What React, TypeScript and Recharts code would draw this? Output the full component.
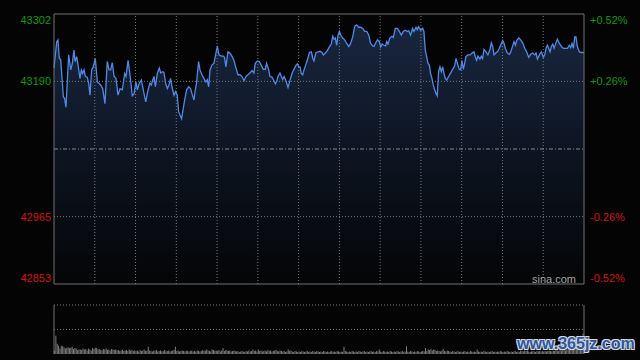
import { ComposedChart, BarChart, Area, Line, Bar, XAxis, YAxis, ReferenceLine } from "recharts";

// minutes since open (390 = close) and index price
const priceTimes = [
  0, 2.0, 2.9, 3.9, 4.9, 6.9, 7.8, 8.8, 10.8, 12.3, 13.5, 14.7, 15.5, 16.7, 17.7, 19.1, 20.1, 21.1, 22.1, 23.1,
  24.5, 25.5, 26.5, 27.7, 28.9, 30.4, 31.9, 33.1, 34.3, 35.8, 37.5, 39.2, 40.5, 41.7, 42.9, 44.2, 45.6, 47.1, 48.6, 50.3,
  52.0, 53.0, 54.5, 55.9, 57.6, 58.9, 60.3, 61.3, 62.8, 64.3, 65.7, 67.5, 69.2, 70.6, 71.6, 72.6, 73.6, 74.6, 76.0, 77.5,
  78.5, 80.0, 80.9, 82.1, 83.4, 84.6, 85.8, 86.8, 88.3, 89.5, 90.7, 91.7, 92.7, 93.9, 95.1, 96.4, 97.6, 99.1, 100.5, 101.5,
  103.0, 104.0, 104.9, 106.4, 107.4, 108.9, 110.3, 111.8, 112.8, 113.8, 114.8, 116.2, 117.7, 118.9, 120.2, 121.4, 123.1, 124.6, 125.5, 126.5,
  128.0, 129.5, 130.9, 132.4, 133.9, 135.4, 136.8, 138.3, 139.8, 141.2, 142.7, 144.2, 145.7, 147.1, 148.1, 149.6, 151.1, 152.5, 154.0, 155.5,
  156.4, 157.9, 158.9, 160.4, 161.9, 162.9, 163.9, 164.8, 166.3, 167.3, 168.3, 169.3, 170.7, 172.2, 173.7, 175.1, 176.6, 178.1, 179.1, 180.1,
  181.0, 182.0, 183.0, 184.0, 185.5, 186.4, 187.9, 189.4, 190.4, 191.3, 192.8, 194.3, 195.8, 197.2, 198.2, 199.7, 201.1, 202.6, 204.1, 205.1,
  206.1, 207.0, 208.0, 209.0, 210.0, 211.0, 212.4, 213.9, 215.4, 216.9, 218.3, 219.8, 221.3, 222.7, 224.2, 225.7, 227.2, 228.6, 230.1, 231.6,
  233.0, 234.5, 235.5, 236.5, 238.0, 239.4, 240.4, 241.4, 242.8, 244.0, 244.8, 245.7, 247.2, 248.7, 249.7, 251.1, 252.6, 254.1, 255.6, 257.0,
  258.5, 260.0, 261.0, 262.4, 263.9, 264.9, 266.4, 267.3, 268.3, 269.8, 271.3, 272.2, 273.2, 274.2, 275.2, 276.2, 277.1, 278.1, 279.1, 280.1,
  281.1, 282.0, 283.0, 284.0, 285.0, 286.0, 287.0, 287.9, 288.9, 290.4, 291.9, 293.3, 294.8, 295.8, 296.8, 298.2, 299.2, 300.2, 301.2, 302.2,
  303.1, 304.6, 306.1, 307.6, 309.0, 310.0, 311.0, 312.0, 313.4, 314.4, 315.4, 316.4, 317.9, 319.3, 320.8, 321.8, 322.8, 323.8, 325.0, 326.3,
  327.7, 329.2, 330.2, 331.2, 332.1, 333.6, 335.1, 336.1, 337.5, 338.5, 339.5, 340.5, 342.0, 343.4, 344.9, 346.4, 347.8, 349.3, 350.8, 352.3,
  353.7, 354.7, 355.7, 357.2, 358.6, 360.1, 361.1, 362.1, 363.0, 364.0, 365.0, 366.0, 367.0, 368.0, 369.4, 370.4, 371.9, 373.4, 374.8, 376.3,
  377.8, 379.2, 380.2, 381.2, 382.2, 383.2, 384.1, 385.1, 386.6, 388.1, 389.6, 390,
];

const prices = [
  43212, 43256, 43259, 43228, 43227, 43164, 43162, 43147, 43234, 43209, 43220, 43242, 43223, 43231, 43217, 43195, 43209, 43203, 43209, 43198,
  43197, 43187, 43167, 43209, 43214, 43228, 43189, 43187, 43184, 43178, 43153, 43223, 43209, 43209, 43221, 43198, 43195, 43167, 43178, 43176,
  43203, 43198, 43225, 43201, 43166, 43169, 43189, 43176, 43187, 43192, 43176, 43156, 43176, 43187, 43184, 43192, 43198, 43181, 43203, 43212,
  43204, 43206, 43205, 43187, 43178, 43184, 43195, 43181, 43167, 43173, 43167, 43140, 43134, 43128, 43145, 43162, 43176, 43181, 43178, 43170,
  43159, 43176, 43187, 43223, 43209, 43201, 43195, 43189, 43193, 43181, 43209, 43217, 43220, 43234, 43248, 43234, 43232, 43232, 43230, 43214,
  43239, 43237, 43232, 43225, 43212, 43201, 43201, 43198, 43191, 43198, 43201, 43204, 43208, 43204, 43220, 43224, 43223, 43217, 43210, 43210,
  43220, 43210, 43198, 43197, 43191, 43186, 43190, 43198, 43204, 43198, 43193, 43198, 43191, 43180, 43192, 43203, 43210, 43217, 43219, 43214,
  43214, 43203, 43201, 43209, 43219, 43225, 43238, 43239, 43228, 43224, 43238, 43239, 43240, 43238, 43234, 43237, 43241, 43247, 43253, 43265,
  43260, 43262, 43250, 43267, 43273, 43267, 43262, 43259, 43253, 43248, 43253, 43264, 43282, 43284, 43280, 43280, 43278, 43273, 43273, 43267,
  43253, 43249, 43248, 43253, 43259, 43256, 43247, 43252, 43250, 43249, 43256, 43252, 43262, 43265, 43263, 43278, 43278, 43273, 43267, 43273,
  43275, 43273, 43274, 43267, 43278, 43273, 43280, 43276, 43281, 43275, 43278, 43273, 43242, 43231, 43220, 43217, 43203, 43195, 43184, 43176,
  43170, 43166, 43206, 43214, 43206, 43214, 43203, 43195, 43192, 43198, 43204, 43210, 43216, 43228, 43220, 43210, 43209, 43225, 43210, 43220,
  43231, 43234, 43234, 43237, 43239, 43231, 43225, 43232, 43227, 43232, 43228, 43243, 43239, 43234, 43243, 43254, 43248, 43234, 43237, 43239,
  43245, 43253, 43258, 43253, 43245, 43237, 43235, 43239, 43249, 43256, 43250, 43258, 43262, 43259, 43254, 43245, 43239, 43230, 43235, 43237,
  43234, 43237, 43227, 43234, 43239, 43230, 43234, 43245, 43250, 43245, 43239, 43248, 43252, 43245, 43254, 43260, 43253, 43248, 43245, 43245,
  43245, 43250, 43246, 43253, 43245, 43264, 43264, 43248, 43239, 43238, 43238, 43238,
];

// per-minute volume, scaled so 100 = top of the volume panel
const volumes = [
  6, 37, 21, 17, 11, 17, 16, 14, 11, 13, 14, 12, 13, 15, 10, 12, 11, 8, 9, 9, 8, 11, 9, 10, 7, 11, 9, 7, 12, 10,
  13, 12, 9, 10, 8, 7, 10, 9, 11, 8, 9, 7, 10, 9, 8, 9, 7, 8, 6, 7, 9, 6, 7, 8, 6, 9, 7, 8, 6, 7,
  6, 7, 5, 8, 6, 7, 9, 6, 7, 15, 7, 6, 5, 7, 6, 8, 5, 6, 7, 5, 6, 8, 5, 6, 7, 5, 6, 7, 8, 15,
  6, 7, 5, 6, 7, 6, 5, 7, 6, 5, 6, 7, 5, 6, 5, 7, 6, 5, 6, 8, 6, 7, 9, 7, 6, 5, 9, 8, 6, 7,
  6, 8, 5, 7, 12, 6, 8, 7, 6, 7, 5, 6, 7, 6, 5, 6, 4, 5, 6, 5, 4, 6, 5, 7, 5, 6, 9, 6, 7, 5,
  9, 6, 7, 5, 6, 7, 5, 8, 6, 7, 5, 6, 7, 8, 6, 5, 7, 6, 5, 6, 4, 5, 9, 6, 7, 5, 4, 6, 5, 4,
  5, 4, 6, 5, 4, 5, 6, 4, 5, 4, 6, 5, 4, 6, 5, 4, 5, 4, 6, 5, 4, 5, 4, 5, 6, 4, 5, 4, 6, 5,
  4, 5, 4, 15, 6, 5, 4, 5, 4, 6, 5, 4, 5, 4, 6, 5, 4, 5, 6, 4, 5, 4, 5, 6, 4, 5, 4, 6, 5, 9,
  5, 4, 6, 5, 4, 5, 4, 6, 5, 4, 5, 4, 6, 5, 4, 5, 6, 4, 5, 16, 5, 4, 6, 5, 4, 5, 4, 6, 5, 4,
  5, 6, 5, 12, 6, 9, 8, 10, 7, 9, 8, 6, 7, 6, 5, 7, 10, 6, 5, 7, 6, 5, 4, 6, 5, 4, 5, 6, 4, 5,
  4, 5, 6, 4, 5, 4, 6, 5, 4, 5, 4, 9, 5, 4, 5, 4, 6, 5, 4, 5, 4, 5, 6, 4, 5, 4, 5, 4, 6, 5,
  4, 5, 4, 6, 5, 4, 5, 4, 5, 6, 4, 5, 4, 7, 6, 5, 7, 6, 7, 5, 4, 5, 6, 5, 4, 6, 5, 6, 5, 6,
  5, 6, 5, 6, 7, 6, 5, 7, 6, 8, 7, 6, 8, 7, 9, 8, 7, 9, 10, 8, 11, 10, 14, 18, 22, 26, 30, 24, 34, 42,
];

const priceTicks = [42853, 42965, 43190, 43302];
const gridMinutes = [30, 60, 90, 120, 150, 180, 210, 240, 270, 300, 330, 360];
const prevClose = 43077.5;
const priceMin = 42853;
const priceMax = 43302;

const priceData = priceTimes.map((t, i) => ({ t, p: prices[i] }));
const volData = volumes.map((v, i) => ({ t: i + 0.5, v }));

const GREEN = "#0c9c0c";
const RED = "#d41010";
const BORDER = "#707070";
const GRID = "#7a7a7a";
const FONT = "'Liberation Sans', Arial, sans-serif";

function edgeShift(y: number, v: number) {
  if (v === priceMax) return y + 6;
  if (v === priceMin) return y - 6;
  return y;
}

function fmtPct(v: number) {
  const pct = ((v - prevClose) / prevClose) * 100;
  return pct > 0 ? `+${pct.toFixed(2)}%` : `${pct.toFixed(2)}%`;
}

function PriceTick(props: any) {
  const { x, y, payload } = props;
  const v = payload.value;
  return (
    <text
      x={x}
      y={edgeShift(y, v)}
      dy="0.36em"
      textAnchor="end"
      fill={v > prevClose ? GREEN : RED}
      fontSize={11}
      fontFamily={FONT}
    >
      {v}
    </text>
  );
}

function PctTick(props: any) {
  const { x, y, payload } = props;
  const v = payload.value;
  return (
    <text
      x={x}
      y={edgeShift(y, v)}
      dy="0.36em"
      textAnchor="start"
      fill={v > prevClose ? GREEN : RED}
      fontSize={11}
      fontFamily={FONT}
    >
      {fmtPct(v)}
    </text>
  );
}

export default function App() {
  return (
    <div
      style={{
        position: "absolute",
        left: 0,
        top: 0,
        width: 640,
        height: 360,
        background: "#040404",
        overflow: "hidden",
      }}
    >
      <ComposedChart width={640} height={290} data={priceData} margin={{ top: 14, right: 0, bottom: 6, left: 0 }}>
        <defs>
          <linearGradient id="priceFill" x1="0" y1="0" x2="0" y2="1">
            <stop offset="0%" stopColor="#18263f" />
            <stop offset="50%" stopColor="#0d1421" />
            <stop offset="100%" stopColor="#040506" />
          </linearGradient>
        </defs>
        <XAxis dataKey="t" type="number" domain={[0, 390]} hide />
        <YAxis
          yAxisId="left"
          domain={[priceMin, priceMax]}
          ticks={priceTicks}
          interval={0}
          width={54}
          tickSize={0}
          tickMargin={3}
          axisLine={{ stroke: BORDER }}
          tickLine={false}
          tick={<PriceTick />}
        />
        <YAxis
          yAxisId="right"
          orientation="right"
          domain={[priceMin, priceMax]}
          ticks={priceTicks}
          interval={0}
          width={56}
          tickSize={0}
          tickMargin={6}
          axisLine={{ stroke: BORDER }}
          tickLine={false}
          tick={<PctTick />}
        />
        <Area
          yAxisId="left"
          dataKey="p"
          type="linear"
          stroke="none"
          fill="url(#priceFill)"
          fillOpacity={1}
          isAnimationActive={false}
          activeDot={false}
        />
        {gridMinutes.map((m) => (
          <ReferenceLine key={m} yAxisId="left" x={m} stroke={GRID} strokeDasharray="1 2" />
        ))}
        <ReferenceLine yAxisId="left" y={43190} stroke={GRID} strokeDasharray="1 2" />
        <ReferenceLine yAxisId="left" y={42965} stroke={GRID} strokeDasharray="1 2" />
        <ReferenceLine yAxisId="left" y={prevClose} stroke="#8a8a8a" strokeDasharray="4 2 1 2" />
        <ReferenceLine yAxisId="left" y={priceMax} stroke={BORDER} />
        <ReferenceLine yAxisId="left" y={priceMin} stroke={BORDER} />
        <Line
          yAxisId="right"
          dataKey="p"
          type="linear"
          stroke="#4f8ae8"
          strokeWidth={1.3}
          dot={false}
          activeDot={false}
          isAnimationActive={false}
        />
      </ComposedChart>

      <div
        style={{
          position: "absolute",
          left: 532,
          top: 272,
          fontSize: 11,
          fontFamily: FONT,
          color: "#a2a2a2",
          lineHeight: "14px",
        }}
      >
        sina.com
      </div>

      <div style={{ position: "absolute", left: 0, top: 290 }}>
        <BarChart width={640} height={70} data={volData} margin={{ top: 15, right: 56, bottom: 6, left: 54 }}>
          <XAxis dataKey="t" type="number" domain={[0, 390]} hide />
          <YAxis domain={[0, 100]} hide />
          <ReferenceLine y={100} stroke={GRID} strokeDasharray="1 2" />
          <ReferenceLine y={50} stroke={GRID} strokeDasharray="1 2" />
          <ReferenceLine x={0} stroke={BORDER} />
          <ReferenceLine x={390} stroke={BORDER} />
          <Bar dataKey="v" fill="#7c7c7c" barSize={1} isAnimationActive={false} />
        </BarChart>
      </div>

      <div
        style={{
          position: "absolute",
          left: 517,
          top: 335,
          fontSize: 16,
          fontWeight: "bold",
          fontFamily: FONT,
          color: "#2a56a8",
          lineHeight: "18px",
          whiteSpace: "nowrap",
          textShadow: "1px 1px 0 #d8d8d8, -1px -1px 0 #d8d8d8, 1px -1px 0 #d8d8d8, -1px 1px 0 #d8d8d8",
        }}
      >
        www.365jz.com
      </div>
    </div>
  );
}
